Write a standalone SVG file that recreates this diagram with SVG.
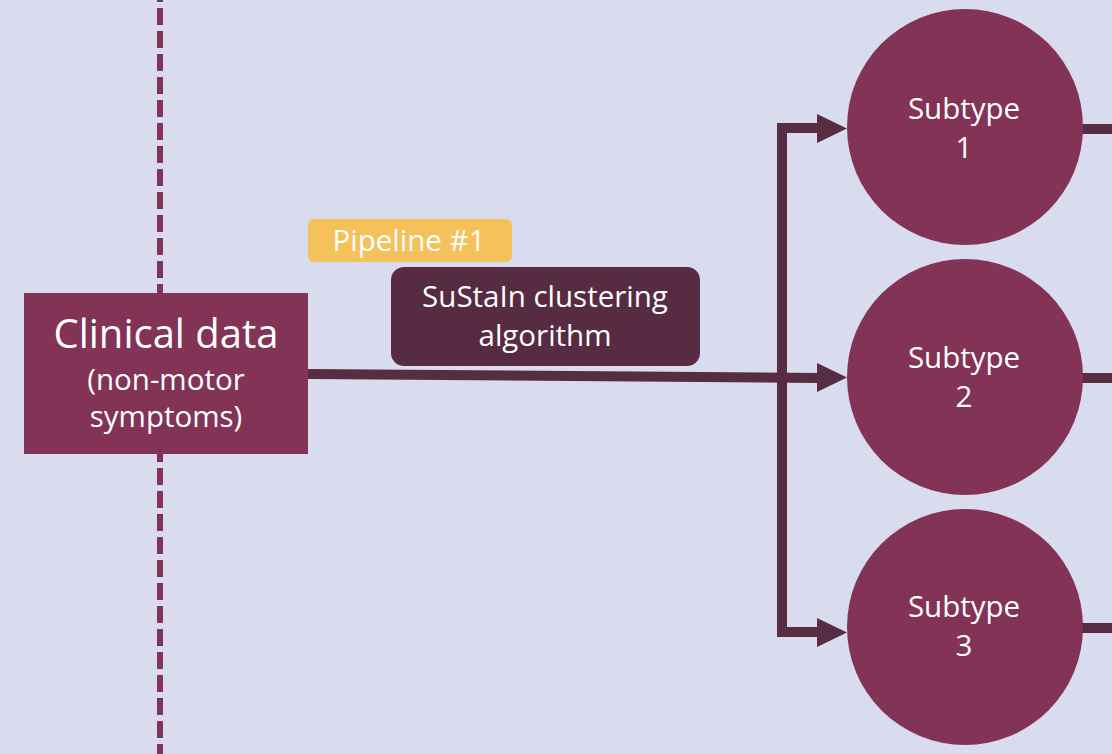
<svg xmlns="http://www.w3.org/2000/svg" width="1112" height="754" viewBox="0 0 1112 754">
<defs>
<style>
.bg{fill:#D9DCEE}
.node{fill:#833355}
.conn{stroke:#582C42;stroke-width:10;fill:none}
.head{fill:#582C42}
.t{font-family:"Open Sans","Liberation Sans",sans-serif;fill:#FFFFFF;text-anchor:middle;font-size:29.5px}
</style>
</defs>
<rect class="bg" x="0" y="0" width="1112" height="754"/>
<line x1="160" y1="-15" x2="160" y2="754" stroke="#833355" stroke-width="6" stroke-dasharray="17 6"/>
<g id="connectors">
<path class="conn" d="M308,374 L820,378"/>
<path class="conn" d="M782,123 L782,637"/>
<path class="conn" d="M777,128 L820,128"/>
<path class="conn" d="M782,632 L820,632"/>
<polygon class="head" points="817,114 847,128.5 817,143"/>
<polygon class="head" points="817,363 847,377.5 817,392"/>
<polygon class="head" points="817,618 847,632.5 817,647"/>
<path class="conn" d="M1080,129 L1112,129"/>
<path class="conn" d="M1080,378 L1112,378"/>
<path class="conn" d="M1080,628 L1112,628"/>
</g>
<g id="clinical">
<rect class="node" x="24" y="293" width="284" height="161"/>
<text class="t" x="166" y="348" style="font-size:40px">Clinical data</text>
<text class="t" x="166" y="390">(non-motor</text>
<text class="t" x="166" y="427">symptoms)</text>
</g>
<g id="pipeline">
<rect x="308" y="219" width="204" height="43" rx="6" fill="#F5C15A"/>
<text class="t" x="409" y="251">Pipeline #1</text>
</g>
<g id="sustain">
<rect x="391" y="267" width="309" height="99" rx="13" fill="#572B41"/>
<text class="t" x="545" y="307">SuStaIn clustering</text>
<text class="t" x="545" y="346">algorithm</text>
</g>
<g id="subtype1">
<circle class="node" cx="965" cy="127" r="118"/>
<text class="t" x="964" y="119">Subtype</text>
<text class="t" x="964" y="158">1</text>
</g>
<g id="subtype2">
<circle class="node" cx="965" cy="377" r="118"/>
<text class="t" x="964" y="368">Subtype</text>
<text class="t" x="964" y="407">2</text>
</g>
<g id="subtype3">
<circle class="node" cx="965" cy="627" r="118"/>
<text class="t" x="964" y="617">Subtype</text>
<text class="t" x="964" y="656">3</text>
</g>
</svg>
